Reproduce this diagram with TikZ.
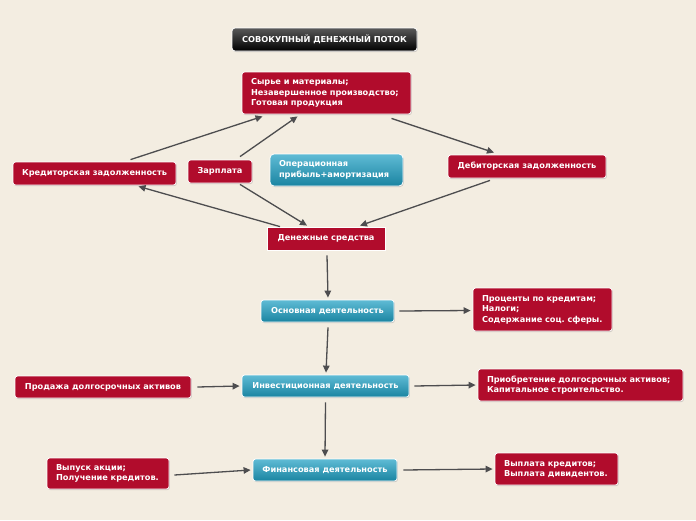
\documentclass[tikz,border=0pt]{standalone}
\usepackage{fontspec}
\setmainfont{DejaVu Sans}
\usetikzlibrary{arrows.meta,shadows}
\definecolor{paper}{HTML}{F3EDE1}
\definecolor{boxred}{HTML}{B10C2C}
\definecolor{bluetop}{HTML}{5FBBD5}
\definecolor{bluebot}{HTML}{1A84A1}
\definecolor{arrgray}{HTML}{4D4D4F}
\frenchspacing
\begin{document}
\begin{tikzpicture}[x=1pt,y=-1pt,
	box/.style={draw=white,line width=0.8pt,rounded corners=2.5pt,text=white,inner sep=0pt,
		font=\fontsize{8.2}{10.5}\selectfont\bfseries,
		drop shadow={opacity=0.35,shadow xshift=0.8pt,shadow yshift=-1pt}},
	redbox/.style={box,fill=boxred},
	bluebox/.style={box,top color=bluetop,bottom color=bluebot},
	listbox/.style={redbox,align=left,inner xsep=9pt},
	arr/.style={draw=arrgray,line width=1.3pt,-{Triangle[length=7pt,width=6.5pt]}}]
	\fill[paper] (0,0) rectangle (696,520);
	\node[box,top color=gray!70!black,bottom color=black,minimum width=185pt,minimum height=23pt,rounded corners=3pt] (title) at (324.5,39.5) {СОВОКУПНЫЙ ДЕНЕЖНЫЙ ПОТОК};
	\node[listbox,text width=151pt,minimum height=42pt] (raw) at (326.5,93) {Сырье и материалы;\\Незавершенное производство;\\Готовая продукция};
	\node[redbox,minimum width=163pt,minimum height=23pt] (kred) at (94.5,173.5) {Кредиторская задолженность};
	\node[redbox,minimum width=64pt,minimum height=23pt] (zarp) at (220,171.5) {Зарплата};
	\node[bluebox,align=left,inner xsep=9pt,text width=115pt,minimum height=32pt,rounded corners=4pt] (oper) at (336.5,170) {Операционная\\прибыль+амортизация};
	\node[redbox,minimum width=158pt,minimum height=23pt] (debit) at (527,166.5) {Дебиторская задолженность};
	\node[redbox,rounded corners=0pt,minimum width=118pt,minimum height=23pt] (money) at (326,238.5) {Денежные средства};
	\node[bluebox,minimum width=133pt,minimum height=22pt] (osn) at (327.5,311) {Основная деятельность};
	\node[listbox,text width=121pt,minimum height=43pt] (proc) at (542.5,309.5) {Проценты по кредитам;\\Налоги;\\Содержание соц. сферы.};
	\node[redbox,minimum width=176pt,minimum height=22pt] (prod) at (103,387) {Продажа долгосрочных активов};
	\node[bluebox,minimum width=167pt,minimum height=22pt] (inv) at (325.5,386) {Инвестиционная деятельность};
	\node[listbox,text width=187pt,minimum height=32pt] (priob) at (580.5,385) {Приобретение долгосрочных активов;\\Капитальное строительство.};
	\node[listbox,text width=104pt,minimum height=31pt] (vyp) at (108,473.5) {Выпуск акции;\\Получение кредитов.};
	\node[bluebox,minimum width=144pt,minimum height=22pt] (fin) at (325,470) {Финансовая деятельность};
	\node[listbox,text width=105pt,minimum height=32pt] (vypl) at (556.5,469) {Выплата кредитов;\\Выплата дивидентов.};
	\draw[arr] ([xshift=36pt,yshift=2pt]kred.north) -- ([xshift=-64pt,yshift=-2pt]raw.south);
	\draw[arr] ([xshift=20pt,yshift=3pt]zarp.north) -- ([xshift=-29pt,yshift=-2pt]raw.south);
	\draw[arr] ([xshift=65pt,yshift=-4pt]raw.south) -- ([xshift=-33pt,yshift=2pt]debit.north);
	\draw[arr] ([xshift=20pt,yshift=-1pt]zarp.south) -- ([xshift=-19pt,yshift=1pt]money.north);
	\draw[arr] ([xshift=-46pt]money.north) -- ([xshift=44pt,yshift=-1pt]kred.south);
	\draw[arr] ([xshift=-37pt,yshift=-2pt]debit.south) -- ([xshift=34pt,yshift=1pt]money.north);
	\draw[arr] ([xshift=1pt,yshift=-5pt]money.south) -- ([xshift=0.5pt,yshift=2pt]osn.north);
	\draw[arr] ([xshift=0.5pt,yshift=-5pt]osn.south) -- ([xshift=0.5pt,yshift=2pt]inv.north);
	\draw[arr] ([yshift=-5pt]inv.south) -- ([yshift=2pt]fin.north);
	\draw[arr] ([xshift=5pt]osn.east) -- ([xshift=-2pt,yshift=-1pt]proc.west);
	\draw[arr] ([xshift=6pt]prod.east) -- ([xshift=-2pt]inv.west);
	\draw[arr] ([xshift=5pt]inv.east) -- ([xshift=-2pt]priob.west);
	\draw[arr] ([xshift=5pt,yshift=-1.5pt]vyp.east) -- ([xshift=-2pt]fin.west);
	\draw[arr] ([xshift=6pt]fin.east) -- ([xshift=-2pt]vypl.west);
\end{tikzpicture}
\end{document}
